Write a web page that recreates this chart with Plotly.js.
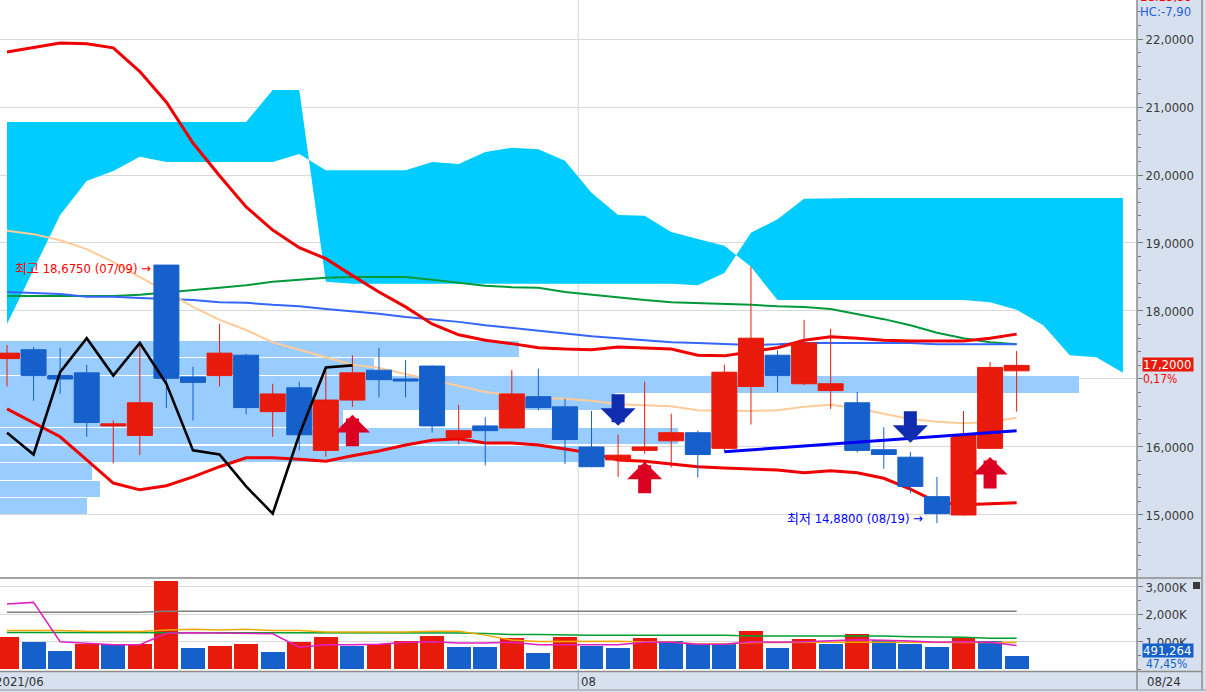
<!DOCTYPE html>
<html><head><meta charset="utf-8">
<script src="https://cdn.plot.ly/plotly-3.0.1.min.js"></script>
<style>html,body{margin:0;padding:0;background:#D6E0EE;overflow:hidden}#chart{width:1206px;height:692px}</style>
</head><body><div id="chart"></div>
<script>
// ---------------- DATA ----------------
const dates = ["2021-06-30","2021-07-01","2021-07-02","2021-07-06","2021-07-07","2021-07-08","2021-07-09","2021-07-12","2021-07-13","2021-07-14","2021-07-15","2021-07-16","2021-07-19","2021-07-20","2021-07-21","2021-07-22","2021-07-23","2021-07-26","2021-07-27","2021-07-28","2021-07-29","2021-07-30","2021-08-02","2021-08-03","2021-08-04","2021-08-05","2021-08-06","2021-08-09","2021-08-10","2021-08-11","2021-08-12","2021-08-13","2021-08-16","2021-08-17","2021-08-18","2021-08-19","2021-08-20","2021-08-23","2021-08-24"];
const openP  = [17.30,17.43,17.05,17.09,16.31,16.17,18.675,17.03,17.05,17.35,16.52,16.87,15.95,16.69,17.13,17.00,17.19,16.14,16.31,16.28,16.74,16.59,16.00,15.81,15.95,16.09,16.21,15.98,16.89,17.35,16.93,16.83,16.65,15.96,15.85,15.27,15.00,15.98,17.12];
const highP  = [17.50,17.47,17.46,17.21,16.39,17.53,18.675,17.18,17.81,17.37,16.93,16.96,17.16,17.35,17.46,17.28,17.20,16.62,16.44,17.13,17.15,16.71,16.53,16.18,16.96,16.49,16.24,17.21,18.65,17.42,17.87,17.74,16.81,16.29,15.93,15.56,16.53,17.25,17.41];
const lowP   = [16.89,16.68,16.78,16.15,15.76,15.88,16.57,16.39,16.89,16.48,16.15,15.95,15.86,16.59,16.73,16.73,16.21,16.04,15.73,16.27,16.54,15.75,15.70,15.56,15.90,15.70,15.55,15.93,16.33,16.81,16.91,16.56,15.92,15.68,15.32,14.88,14.99,15.97,16.52];
const closeP = [17.38,17.05,17.00,16.36,16.34,16.65,17.01,16.95,17.38,16.58,16.78,16.18,16.69,17.09,16.99,16.97,16.31,16.24,16.24,16.78,16.58,16.11,15.71,15.88,16.00,16.21,15.89,17.10,17.60,17.05,17.53,16.93,15.95,15.89,15.42,15.02,16.18,17.17,17.20];
const volume = [1180000,1010000,670000,940000,920000,940000,3220000,790000,850000,940000,650000,1010000,1180000,850000,940000,1040000,1220000,820000,810000,1150000,600000,1180000,850000,790000,1150000,1040000,920000,910000,1400000,790000,1110000,940000,1290000,1070000,940000,820000,1150000,1035329,491264];
const volumeBeforeFirst = 1000000;

// Bollinger bands (upper / middle / lower)
const bbUpper = [21.81,21.88,21.94,21.93,21.87,21.52,21.07,20.47,19.99,19.53,19.19,18.93,18.77,18.52,18.28,18.06,17.81,17.65,17.57,17.52,17.46,17.44,17.43,17.47,17.46,17.44,17.35,17.34,17.40,17.46,17.57,17.62,17.60,17.57,17.56,17.56,17.56,17.60,17.66];
const bbMiddle = [19.18,19.13,19.04,18.91,18.72,18.50,18.29,18.06,17.87,17.72,17.54,17.43,17.32,17.21,17.16,17.07,16.99,16.90,16.81,16.76,16.72,16.71,16.68,16.63,16.62,16.60,16.54,16.53,16.53,16.54,16.59,16.62,16.57,16.49,16.41,16.37,16.35,16.37,16.43];
const bbLower = [16.56,16.35,16.15,15.81,15.47,15.37,15.43,15.56,15.71,15.84,15.84,15.82,15.79,15.87,15.94,16.03,16.10,16.12,16.06,16.06,16.03,15.97,15.91,15.81,15.79,15.75,15.71,15.69,15.68,15.66,15.62,15.65,15.62,15.54,15.38,15.19,15.15,15.16,15.18];
// Moving averages
const ma60 = [18.28,18.27,18.25,18.21,18.21,18.19,18.18,18.16,18.13,18.12,18.09,18.07,18.03,18.00,17.96,17.91,17.88,17.84,17.79,17.75,17.71,17.66,17.63,17.60,17.57,17.54,17.53,17.51,17.50,17.51,17.53,17.53,17.53,17.53,17.53,17.51,17.51,17.51,17.51];
const ma120 = [18.22,18.22,18.22,18.22,18.22,18.24,18.27,18.31,18.34,18.38,18.43,18.46,18.49,18.50,18.50,18.50,18.46,18.41,18.37,18.35,18.34,18.28,18.24,18.19,18.16,18.13,18.12,18.10,18.09,18.07,18.06,18.03,17.96,17.88,17.79,17.68,17.60,17.54,17.51];
// Ichimoku leading spans (extend 4 periods ahead)
const spanA = [17.81,18.62,19.41,19.91,20.06,20.27,20.19,20.19,20.19,20.19,20.19,20.31,20.07,20.07,20.07,20.07,20.19,20.16,20.34,20.40,20.38,20.21,19.74,19.41,19.40,19.16,19.06,18.96,18.65,18.16,18.16,18.16,18.16,18.16,18.16,18.16,18.16,18.13,18.02,17.79,17.35,17.32,17.09];
const spanB = [20.78,20.78,20.78,20.78,20.78,20.78,20.78,20.78,20.78,20.78,21.25,21.25,18.43,18.40,18.40,18.40,18.40,18.40,18.40,18.40,18.40,18.40,18.40,18.40,18.40,18.40,18.38,18.56,19.15,19.35,19.65,19.66,19.66,19.66,19.66,19.66,19.66,19.66,19.66,19.66,19.66,19.66,19.66];
const laggingShift = 25;
// Trend line (index, price)
const trendIdx = [27, 38];
const trendPrice = [15.93, 16.24];
// Signals
const buySignals = [13, 24, 37];
const sellSignals = [23, 34];
// Price-by-volume profile
const profilePrice = [17.44,17.18,16.92,16.67,16.42,16.16,15.90,15.64,15.38,15.13];
const profileVolume = [48.1,34.7,100,57.0,31.8,62.8,53.9,8.5,9.3,8.1];
// Volume moving averages
const volMA5 = [2380000,2440000,1010000,950000,900000,900000,1320000,1340000,1320000,1320000,1300000,810000,900000,900000,920000,990000,1010000,960000,960000,990000,900000,900000,900000,900000,990000,990000,920000,920000,1010000,990000,1010000,1040000,1080000,1060000,1040000,990000,1010000,990000,870000];
const volMA20 = [1420000,1420000,1420000,1390000,1390000,1380000,1440000,1460000,1440000,1460000,1420000,1420000,1360000,1360000,1360000,1360000,1390000,1390000,1250000,1070000,1020000,1020000,1020000,1030000,1000000,1000000,930000,930000,980000,990000,990000,990000,990000,990000,990000,980000,980000,980000,980000];
const volMA60 = [1350000,1350000,1350000,1350000,1350000,1350000,1350000,1350000,1350000,1350000,1350000,1330000,1330000,1330000,1330000,1330000,1330000,1330000,1310000,1270000,1270000,1250000,1250000,1250000,1250000,1250000,1250000,1250000,1220000,1220000,1220000,1220000,1220000,1220000,1190000,1190000,1170000,1140000,1140000];
const volMA120 = [2080000,2080000,2080000,2080000,2080000,2080000,2120000,2120000,2120000,2120000,2120000,2120000,2120000,2120000,2120000,2120000,2120000,2120000,2120000,2120000,2120000,2120000,2120000,2120000,2120000,2120000,2120000,2120000,2120000,2120000,2120000,2120000,2120000,2120000,2120000,2120000,2120000,2120000,2120000];
const priceTicks = [15,16,17,18,19,20,21,22];
const volTicks = [1000000,2000000,3000000];

// ---------------- STYLE / LAYOUT ----------------
const UP = '#E81A0C', DOWN = '#1560CA', PANEL = '#D6E0EE';
const NARROW = '"Liberation Sans Narrow","DejaVu Sans Condensed","Arial Narrow","Noto Sans CJK KR",sans-serif';
const PLOT_W = 1137, PLOT_H = 671;
const px = v => v / PLOT_W;
const py = v => (PLOT_H - v) / PLOT_H;
const xRange = [-0.2635, 42.53];
const comma = (v, d) => v.toFixed(d).replace('.', ',');

const idx = dates.map((d, i) => i);
const cloudIdx = spanA.map((d, i) => i);
const n = dates.length, last = n - 1;

const lagX = [], lagY = [];
for (let i = 0; i + laggingShift < n; i++) { lagX.push(i); lagY.push(closeP[i + laggingShift]); }

const volColors = volume.map((v, i) => v > (i === 0 ? volumeBeforeFirst : volume[i - 1]) ? UP : DOWN);

let hiIdx = 0, loIdx = 0;
highP.forEach((v, i) => { if (v > highP[hiIdx]) hiIdx = i; });
lowP.forEach((v, i) => { if (v < lowP[loIdx]) loIdx = i; });
const md = d => d.slice(5).replace('-', '/');

const traces = [];
traces.push({type:'bar', orientation:'h', x:profileVolume, y:profilePrice, width:0.243,
  marker:{color:'#99CCFF', line:{width:0}}, xaxis:'x', yaxis:'y', hoverinfo:'skip'});
traces.push({type:'scatter', mode:'lines', x:cloudIdx, y:spanA, line:{width:0, color:'#00CCFF'}, xaxis:'x2', yaxis:'y'});
traces.push({type:'scatter', mode:'lines', x:cloudIdx, y:spanB, line:{width:0, color:'#00CCFF'}, fill:'tonexty', fillcolor:'#00CCFF', xaxis:'x2', yaxis:'y'});
traces.push({type:'scatter', mode:'lines', x:idx, y:ma120, line:{width:2, color:'#00993A'}, xaxis:'x2', yaxis:'y'});
traces.push({type:'scatter', mode:'lines', x:idx, y:ma60, line:{width:2, color:'#3366FF'}, xaxis:'x2', yaxis:'y'});
traces.push({type:'scatter', mode:'lines', x:idx, y:bbMiddle, line:{width:2, color:'#FFCC99'}, xaxis:'x2', yaxis:'y'});
traces.push({type:'scatter', mode:'lines', x:idx, y:bbUpper, line:{width:3, color:'#F00000'}, xaxis:'x2', yaxis:'y'});
traces.push({type:'scatter', mode:'lines', x:idx, y:bbLower, line:{width:3, color:'#F00000'}, xaxis:'x2', yaxis:'y'});
traces.push({type:'candlestick', x:idx, open:openP, high:highP, low:lowP, close:closeP, whiskerwidth:0,
  increasing:{line:{color:UP, width:1}, fillcolor:UP}, decreasing:{line:{color:DOWN, width:1}, fillcolor:DOWN},
  xaxis:'x3', yaxis:'y'});
traces.push({type:'scatter', mode:'lines', x:lagX, y:lagY, line:{width:2.6, color:'#000000'}, xaxis:'x4', yaxis:'y'});
traces.push({type:'scatter', mode:'lines', x:trendIdx, y:trendPrice, line:{width:3, color:'#0000FF'}, xaxis:'x4', yaxis:'y'});
traces.push({type:'bar', x:idx, y:volume, width:0.9, marker:{color:volColors, line:{width:0}}, xaxis:'x5', yaxis:'y2'});
traces.push({type:'scatter', mode:'lines', x:idx, y:volMA120, line:{width:1.5, color:'#808080'}, xaxis:'x5', yaxis:'y2'});
traces.push({type:'scatter', mode:'lines', x:idx, y:volMA60, line:{width:1.5, color:'#00A030'}, xaxis:'x5', yaxis:'y2'});
traces.push({type:'scatter', mode:'lines', x:idx, y:volMA20, line:{width:1.5, color:'#F0A800'}, xaxis:'x5', yaxis:'y2'});
traces.push({type:'scatter', mode:'lines', x:idx, y:volMA5, line:{width:1.5, color:'#E020C0'}, xaxis:'x5', yaxis:'y2'});

// month boundaries (not the one right at the left edge, which the first label covers)
let monthBounds = [];
for (let i = 2; i < n; i++) if (dates[i].slice(5,7) !== dates[i-1].slice(5,7)) monthBounds.push(i - 0.5);
const toPaperX = v => (v - xRange[0]) / (xRange[1] - xRange[0]);

const shapes = [];
monthBounds.forEach(m => {
  shapes.push({type:'line', xref:'x2', yref:'paper', x0:m, x1:m, y0:0, y1:1, line:{color:'#D6D6D6', width:1}, layer:'below'});
  shapes.push({type:'line', xref:'paper', yref:'paper', x0:toPaperX(m), x1:toPaperX(m), y0:py(671), y1:py(689), line:{color:'#9A9A9A', width:1}});
});
shapes.push({type:'line', xref:'paper', yref:'paper', x0:0, x1:px(1202), y0:py(578), y1:py(578), line:{color:'#8C8C8C', width:1.5}});
shapes.push({type:'line', xref:'paper', yref:'paper', x0:0, x1:px(1202), y0:py(671.5), y1:py(671.5), line:{color:'#8C8C8C', width:1.5}});
shapes.push({type:'line', xref:'paper', yref:'paper', x0:0, x1:px(1206), y0:py(690), y1:py(690), line:{color:'#9A9A9A', width:1}});
shapes.push({type:'line', xref:'paper', yref:'paper', x0:px(1137), x1:px(1137), y0:py(0), y1:py(690), line:{color:'#8C8C8C', width:1.5}});
shapes.push({type:'line', xref:'paper', yref:'paper', x0:px(1202), x1:px(1202), y0:py(0), y1:py(690), line:{color:'#8C8C8C', width:1.5}});
shapes.push({type:'rect', xref:'paper', yref:'paper', x0:px(1193), x1:px(1200), y0:py(582), y1:py(589), fillcolor:'#3A3A3A', line:{width:0}});

const ann = [];
const hc = (closeP[last] - highP[hiIdx]) / highP[hiIdx] * 100;
const lc = (closeP[last] - lowP[loIdx]) / lowP[loIdx] * 100;
ann.push({xref:'paper', yref:'paper', x:px(1138), y:py(-3), xanchor:'left', yanchor:'middle', showarrow:false,
  text:'LC:' + comma(lc, 2), font:{family:NARROW, size:13, color:'#FF0000'}});
ann.push({xref:'paper', yref:'paper', x:px(1138), y:py(11), xanchor:'left', yanchor:'middle', showarrow:false,
  text:'HC:' + comma(hc, 2), font:{family:NARROW, size:13, color:'#1E5FD8'}});
const chg = (closeP[last] / closeP[last-1] - 1) * 100;
ann.push({xref:'paper', yref:'y', x:px(1142), y:closeP[last], xanchor:'left', yanchor:'middle', showarrow:false,
  text:comma(chg, 2) + '%', yshift:-13, bgcolor:PANEL, borderpad:0, width:55, height:13, align:'left',
  font:{family:NARROW, size:12, color:'#FF0000'}});
ann.push({xref:'paper', yref:'y', x:px(1142), y:closeP[last], xanchor:'left', yanchor:'middle', showarrow:false,
  text:comma(closeP[last], 4), bgcolor:UP, borderpad:0, width:50, height:13, align:'left', yshift:1,
  font:{family:NARROW, size:13, color:'#FFFFFF'}});
const vchg = volume[last] / volume[last-1] * 100;
ann.push({xref:'paper', yref:'y2', x:px(1142), y:volume[last], xanchor:'left', yanchor:'middle', showarrow:false,
  text:volume[last].toLocaleString('en-US'), bgcolor:DOWN, borderpad:0, width:50, height:13, align:'left', yshift:5,
  font:{family:NARROW, size:13, color:'#FFFFFF'}});
ann.push({xref:'paper', yref:'y2', x:px(1144), y:volume[last], xanchor:'left', yanchor:'middle', showarrow:false,
  text:comma(vchg, 2) + '%', yshift:-8, font:{family:NARROW, size:12, color:'#1560CA'}});
ann.push({xref:'x2', yref:'y', x:hiIdx, y:highP[hiIdx], xanchor:'right', yanchor:'middle', xshift:-13, yshift:-3, showarrow:false,
  text:'최고 ' + comma(highP[hiIdx], 4) + ' (' + md(dates[hiIdx]) + ') →', font:{family:NARROW, size:13, color:'#FF0000'}});
ann.push({xref:'x2', yref:'y', x:loIdx, y:lowP[loIdx], xanchor:'right', yanchor:'middle', xshift:-12, yshift:5, showarrow:false,
  text:'최저 ' + comma(lowP[loIdx], 4) + ' (' + md(dates[loIdx]) + ') →', font:{family:NARROW, size:13, color:'#0000FF'}});
buySignals.forEach(i => ann.push({xref:'x2', yref:'y', x:i, y:lowP[i], showarrow:true, text:'', ax:0, ay:41, standoff:8,
  arrowhead:1, arrowsize:0.45, arrowwidth:13, arrowcolor:'#DA0021'}));
sellSignals.forEach(i => ann.push({xref:'x2', yref:'y', x:i, y:highP[i], showarrow:true, text:'', ax:0, ay:-42, standoff:9,
  arrowhead:1, arrowsize:0.45, arrowwidth:13, arrowcolor:'#0F2DAE'}));
ann.push({xref:'x2', yref:'paper', x:0, y:py(681), xanchor:'left', yanchor:'middle', xshift:-14, showarrow:false,
  text:dates[0].slice(0,7).replace('-','/'), font:{family:NARROW, size:13, color:'#333333'}});
monthBounds.forEach(m => ann.push({xref:'x2', yref:'paper', x:m, y:py(681), xanchor:'left', yanchor:'middle', xshift:1, showarrow:false,
  text:dates[Math.ceil(m)].slice(5,7), font:{family:NARROW, size:13, color:'#333333'}}));
ann.push({xref:'paper', yref:'paper', x:px(1145), y:py(681), xanchor:'left', yanchor:'middle', showarrow:false,
  text:md(dates[last]), font:{family:NARROW, size:13, color:'#333333'}});

const tickFont = {family:NARROW, size:13, color:'#3A3A3A'};
const layout = {
  width:1206, height:692, margin:{l:0, r:69, t:0, b:21, pad:0},
  paper_bgcolor:PANEL, plot_bgcolor:'#FFFFFF', showlegend:false,
  boxgap:0.06, boxgroupgap:0, bargap:0,
  xaxis:{domain:[0,1], range:[0, 100 * PLOT_W / 1079], visible:false, anchor:'y', fixedrange:true},
  xaxis2:{overlaying:'x', range:xRange, visible:false, anchor:'y'},
  xaxis3:{overlaying:'x', range:xRange, visible:false, anchor:'y', rangeslider:{visible:false}},
  xaxis4:{overlaying:'x', range:xRange, visible:false, anchor:'y'},
  xaxis5:{domain:[0,1], range:xRange, visible:false, anchor:'y2'},
  yaxis:{domain:[0.1401,1], range:[14.0882, 22.5735], side:'right', anchor:'x',
    tickvals:priceTicks, ticktext:priceTicks.map(v => comma(v, 4)), ticks:'outside', ticklen:5, tickcolor:'#777',
    showline:false, gridcolor:'#D9D9D9', gridwidth:1, zeroline:false, tickfont:tickFont,
    minor:{dtick:0.2, tick0:0, ticks:'outside', ticklen:3, tickcolor:'#777', showgrid:false}},
  yaxis2:{domain:[0,0.1386], range:[-54545, 3327272], side:'right', anchor:'x5',
    tickvals:volTicks, ticktext:volTicks.map(v => (v/1000).toLocaleString('en-US') + 'K'), ticks:'outside', ticklen:5, tickcolor:'#777',
    showline:false, gridcolor:'#D9D9D9', zeroline:false, tickfont:tickFont,
    minor:{dtick:500000, tick0:0, ticks:'outside', ticklen:3, tickcolor:'#777', showgrid:false}},
  shapes:shapes, annotations:ann
};
Plotly.newPlot('chart', traces, layout, {staticPlot:true, displayModeBar:false});
</script></body></html>
